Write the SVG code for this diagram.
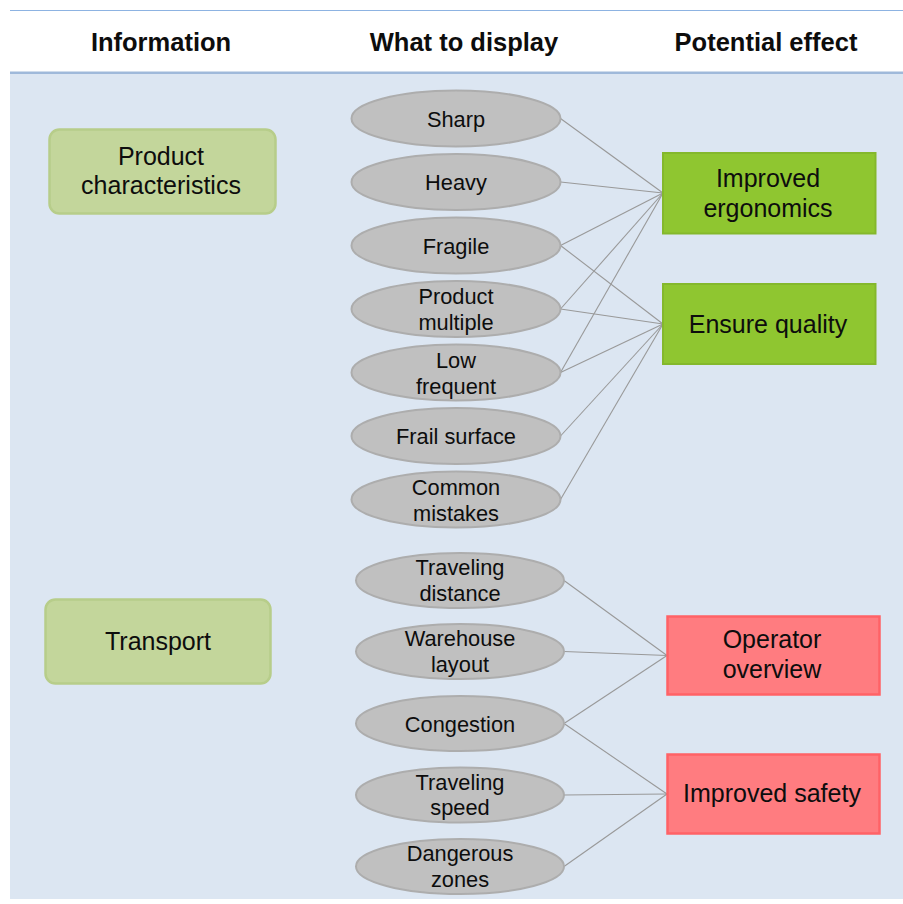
<svg xmlns="http://www.w3.org/2000/svg" width="903" height="904" viewBox="0 0 903 904">
<style>
text{font-family:"Liberation Sans",Arial,sans-serif;fill:#0d0d0d;text-anchor:middle}
.hd{font-size:25.5px;font-weight:bold}
.el ellipse{fill:#c0c0c0;stroke:#adadad;stroke-width:2}
.el text{font-size:21.8px}
.info rect{fill:#c3d69b;stroke:#b7cd8a;stroke-width:2.5}
.info text{font-size:25px}
.grn rect{fill:#8fc630;stroke:#84b82c;stroke-width:2}
.red rect{fill:#ff7c80;stroke:#ff6266;stroke-width:2.5}
.grn text,.red text{font-size:25px}
#connectors line{stroke:#999;stroke-width:1.1}
</style>
<rect x="0" y="0" width="903" height="904" fill="#ffffff"/>
<rect x="10" y="74" width="893" height="825" fill="#dce6f2"/>
<line x1="10" y1="10.5" x2="903" y2="10.5" stroke="#8db3e2" stroke-width="1.2"/>
<line x1="10" y1="72.8" x2="903" y2="72.8" stroke="#9fb9da" stroke-width="2.5"/>
<g id="headers">
<text class="hd" x="161" y="51">Information</text>
<text class="hd" x="464" y="51">What to display</text>
<text class="hd" x="766" y="51">Potential effect</text>
</g>
<g id="connectors">
<line x1="560.5" y1="118.5" x2="663" y2="193"/>
<line x1="560.5" y1="182" x2="663" y2="193"/>
<line x1="560.5" y1="245.5" x2="663" y2="193"/>
<line x1="560.5" y1="309" x2="663" y2="193"/>
<line x1="560.5" y1="372.5" x2="663" y2="193"/>
<line x1="560.5" y1="245.5" x2="663" y2="324"/>
<line x1="560.5" y1="309" x2="663" y2="324"/>
<line x1="560.5" y1="372.5" x2="663" y2="324"/>
<line x1="560.5" y1="436" x2="663" y2="324"/>
<line x1="560.5" y1="499.5" x2="663" y2="324"/>
<line x1="564" y1="580.5" x2="667" y2="655.5"/>
<line x1="564" y1="651.5" x2="667" y2="655.5"/>
<line x1="564" y1="723.5" x2="667" y2="655.5"/>
<line x1="564" y1="723.5" x2="667" y2="794"/>
<line x1="564" y1="795" x2="667" y2="794"/>
<line x1="564" y1="866.5" x2="667" y2="794"/>
</g>
<g id="info-product" class="info"><rect x="49.5" y="129.5" width="226" height="84" rx="10"/><text x="161" y="165">Product</text><text x="161" y="194">characteristics</text></g>
<g id="info-transport" class="info"><rect x="45.5" y="599.5" width="225" height="84" rx="10"/><text x="158" y="650">Transport</text></g>
<g id="d-sharp" class="el"><ellipse cx="456" cy="118.5" rx="104.5" ry="28"/><text x="456" y="126.5">Sharp</text></g>
<g id="d-heavy" class="el"><ellipse cx="456" cy="182" rx="104.5" ry="28"/><text x="456" y="190">Heavy</text></g>
<g id="d-fragile" class="el"><ellipse cx="456" cy="245.5" rx="104.5" ry="28"/><text x="456" y="253.5">Fragile</text></g>
<g id="d-multiple" class="el"><ellipse cx="456" cy="309" rx="104.5" ry="28"/><text x="456" y="303.5">Product</text><text x="456" y="329.5">multiple</text></g>
<g id="d-low" class="el"><ellipse cx="456" cy="372.5" rx="104.5" ry="28"/><text x="456" y="368">Low</text><text x="456" y="393.5">frequent</text></g>
<g id="d-frail" class="el"><ellipse cx="456" cy="436" rx="104.5" ry="28"/><text x="456" y="444">Frail surface</text></g>
<g id="d-mistakes" class="el"><ellipse cx="456" cy="499.5" rx="104.5" ry="28"/><text x="456" y="494.5">Common</text><text x="456" y="520.5">mistakes</text></g>
<g id="d-distance" class="el"><ellipse cx="460" cy="580.5" rx="104" ry="27.5"/><text x="460" y="575">Traveling</text><text x="460" y="600.5">distance</text></g>
<g id="d-layout" class="el"><ellipse cx="460" cy="651.5" rx="104" ry="27.5"/><text x="460" y="646">Warehouse</text><text x="460" y="671.5">layout</text></g>
<g id="d-congestion" class="el"><ellipse cx="460" cy="723.5" rx="104" ry="27.5"/><text x="460" y="731.5">Congestion</text></g>
<g id="d-speed" class="el"><ellipse cx="460" cy="795" rx="104" ry="27.5"/><text x="460" y="789.5">Traveling</text><text x="460" y="815">speed</text></g>
<g id="d-zones" class="el"><ellipse cx="460" cy="866.5" rx="104" ry="27.5"/><text x="460" y="861">Dangerous</text><text x="460" y="886.5">zones</text></g>
<g id="e-ergonomics" class="grn"><rect x="663" y="153" width="212.5" height="80.5"/><text x="768" y="187">Improved</text><text x="768" y="217">ergonomics</text></g>
<g id="e-quality" class="grn"><rect x="663" y="284" width="212.5" height="80"/><text x="768" y="333">Ensure quality</text></g>
<g id="e-overview" class="red"><rect x="667.5" y="616.5" width="212" height="78"/><text x="772" y="648">Operator</text><text x="772" y="678">overview</text></g>
<g id="e-safety" class="red"><rect x="667.5" y="754.5" width="212" height="79"/><text x="772" y="802">Improved safety</text></g>
</svg>
